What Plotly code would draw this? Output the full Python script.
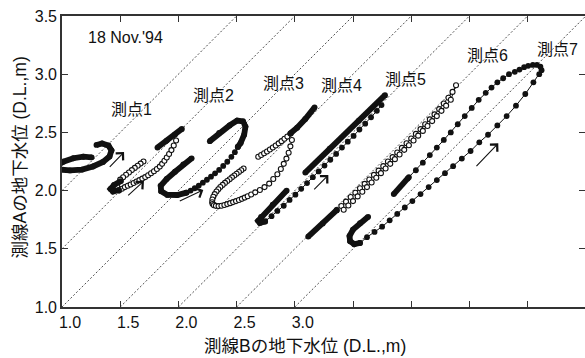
import plotly.graph_objects as go

FONT = "Liberation Sans, Arial, Noto Sans CJK JP, sans-serif"
INK = "#111111"

# ---- axes -------------------------------------------------------------
x_range = [1.0, 5.493]
y_range = [1.0, 3.5]
x_tick_vals = [1.0, 1.5, 2.0, 2.5, 3.0, 3.5, 4.0, 4.5, 5.0]
x_tick_text = ["1.0", "1.5", "2.0", "2.5", "3.0", "", "", "", ""]
y_tick_vals = [1.0, 1.5, 2.0, 2.5, 3.0, 3.5]
y_tick_text = ["1.0", "1.5", "2.0", "2.5", "3.0", "3.5"]

# 1:1 reference lines  y = x + c
guide_offsets = [1.0, 0.5, 0.0, -0.5, -1.0, -1.5, -2.0]

# ---- station labels -----------------------------------------------------
station_names = ["測点1", "測点2", "測点3", "測点4", "測点5", "測点6", "測点7"]
station_label_x = [1.593, 2.302, 2.899, 3.403, 3.951, 4.655, 5.257]
station_label_y = [2.701, 2.813, 2.916, 2.907, 2.954, 3.161, 3.208]

# ---- direction arrows (tail -> head) ----------------------------------
arrow_tail_x = [1.398, 1.556, 1.999, 3.154, 4.548]
arrow_tail_y = [2.190, 1.948, 1.905, 1.997, 2.197]
arrow_head_x = [1.533, 1.704, 2.214, 3.288, 4.748]
arrow_head_y = [2.332, 2.082, 2.005, 2.134, 2.406]

# ---- observations: B-line level (x) vs A-line level (y) ----------------
# "band" = stretches where consecutive readings pile up into a solid stroke
# "pts"  = readings far enough apart to show as separate markers

# 測点1 (filled)
st1_band_x = [1.255, 1.183, 1.097, 1.011, 0.957, 0.983, 1.069, 1.172, 1.266,
              1.352, 1.408, 1.425, 1.399, 1.344, 1.296]
st1_band_y = [2.286, 2.291, 2.278, 2.248, 2.211, 2.181, 2.173, 2.181, 2.207,
              2.246, 2.293, 2.345, 2.387, 2.405, 2.392]

# 測点2 (open)
st2_band_x = [1.507, 1.447, 1.417, 1.438, 1.490, None, 1.82, 1.90, 1.97, 2.03]
st2_band_y = [2.082, 2.048, 2.014, 1.992, 2.005, None, 2.37, 2.43, 2.48, 2.53]
st2_pts_x = [1.70, 1.675, 1.65, 1.625, 1.60, 1.575, 1.55, 1.525, 1.50,
             1.49, 1.515, 1.54, 1.565, 1.59, 1.615, 1.64, 1.665, 1.69, 1.715,
             1.74, 1.765, 1.79, 1.815, 1.84, 1.86, 1.88, 1.90, 1.92, 1.94,
             1.96, 1.98]
st2_pts_y = [2.250, 2.232, 2.213, 2.195, 2.176, 2.156, 2.136, 2.115, 2.094,
             2.000, 2.016, 2.030, 2.042, 2.053, 2.065, 2.078, 2.090, 2.103,
             2.116, 2.132, 2.149, 2.166, 2.185, 2.206, 2.230, 2.256, 2.285,
             2.315, 2.348, 2.388, 2.430]

# 測点3 (filled)
st3_band_x = [2.114, 2.042, 1.971, 1.899, 1.848, 1.852, 1.905, 1.990, 2.070,
              None, 2.510, 2.535, 2.565, 2.576, 2.555, 2.505, 2.440, 2.350, 2.270]
st3_band_y = [2.277, 2.226, 2.162, 2.100, 2.042, 1.995, 1.963, 1.962, 1.983,
              None, 2.375, 2.410, 2.480, 2.550, 2.595, 2.602, 2.560, 2.495, 2.425]
st3_pts_x = [2.070, 2.105, 2.140, 2.175, 2.210, 2.245, 2.280, 2.315, 2.350,
             2.385, 2.420, 2.455, 2.485, 2.510]
st3_pts_y = [1.983, 2.000, 2.020, 2.043, 2.068, 2.093, 2.120, 2.148, 2.178,
             2.212, 2.248, 2.290, 2.330, 2.375]

# 測点4 (open)
st4_band_x = [2.960, 3.020, 3.090, 3.170]
st4_band_y = [2.490, 2.540, 2.615, 2.715]
st4_pts_x = [2.560, 2.540, 2.520, 2.500, 2.480, 2.460, 2.440, 2.420, 2.400,
             2.380, 2.360, 2.343, 2.327, 2.312, 2.300, 2.292, 2.290, 2.294,
             2.305, 2.322, 2.345, 2.370, 2.395, 2.420, 2.445, 2.470, 2.495,
             2.520, 2.545, 2.570, 2.595, 2.625, 2.660, 2.700, 2.740, 2.780,
             2.815, 2.850, 2.880, 2.905, 2.928, 2.947, 2.962, 2.975, None,
             2.686, 2.711, 2.736, 2.761, 2.786, 2.811, 2.836, 2.861, 2.886,
             2.911, 2.936, 2.965]
st4_pts_y = [2.190, 2.175, 2.160, 2.145, 2.130, 2.114, 2.098, 2.082, 2.066,
             2.049, 2.031, 2.012, 1.992, 1.970, 1.947, 1.923, 1.900, 1.885,
             1.875, 1.869, 1.867, 1.870, 1.876, 1.884, 1.892, 1.901, 1.910,
             1.919, 1.929, 1.940, 1.952, 1.967, 1.985, 2.005, 2.030, 2.060,
             2.100, 2.140, 2.185, 2.230, 2.275, 2.325, 2.380, 2.435, None,
             2.291, 2.306, 2.321, 2.336, 2.353, 2.370, 2.388, 2.406, 2.425,
             2.445, 2.465, 2.490]

# 測点5 (filled)
st5_band_x = [3.090, 3.300, 3.550, 3.775, None, 2.930, 2.810, 2.710, 2.685,
              2.700, 2.745]
st5_band_y = [2.155, 2.360, 2.600, 2.820, None, 2.000, 1.880, 1.775, 1.740,
              1.722, 1.735]
st5_pts_x = [2.745, 2.800, 2.850, 2.905, 2.955, 3.005, 3.055, 3.105, 3.155,
             3.205, 3.255, 3.305, 3.355, 3.405, 3.455, 3.505, 3.555, 3.605,
             3.655, 3.705, 3.745]
st5_pts_y = [1.735, 1.780, 1.825, 1.870, 1.920, 1.965, 2.015, 2.065, 2.115,
             2.165, 2.215, 2.265, 2.315, 2.370, 2.420, 2.470, 2.525, 2.575,
             2.630, 2.685, 2.735]

# 測点6 (open)
st6_band_x = [3.115, 3.240, 3.360]
st6_band_y = [1.605, 1.718, 1.832]
st6_pts_x = [3.360, 3.400, 3.440, 3.480, 3.520, 3.560, 3.600, 3.640, 3.680,
             3.720, 3.760, 3.800, 3.840, 3.880, 3.920, 3.960, 4.000, 4.040,
             4.080, 4.120, 4.160, 4.200, 4.240, 4.280, 4.320, 4.355, 4.385,
             4.340, 4.300, 4.260, 4.220, 4.180, 4.140, 4.100, 4.060, 4.020,
             3.980, 3.940, 3.900, 3.860, 3.820, 3.780, 3.740, 3.700, 3.660,
             3.620, 3.580, 3.540, 3.500, 3.460, 3.420]
st6_pts_y = [1.832, 1.868, 1.905, 1.945, 1.982, 2.020, 2.058, 2.095, 2.135,
             2.172, 2.210, 2.250, 2.288, 2.327, 2.367, 2.407, 2.447, 2.487,
             2.528, 2.570, 2.612, 2.655, 2.700, 2.748, 2.798, 2.848, 2.905,
             2.780, 2.730, 2.685, 2.640, 2.597, 2.555, 2.513, 2.472, 2.430,
             2.390, 2.350, 2.310, 2.270, 2.230, 2.190, 2.150, 2.110, 2.070,
             2.030, 1.990, 1.950, 1.910, 1.872, 1.835]

# 測点7 (filled)
st7_band_x = [3.630, 3.560, 3.500, 3.470, 3.475, 3.510, 3.560, None, 3.850, 3.970]
st7_band_y = [1.775, 1.720, 1.665, 1.610, 1.565, 1.540, 1.550, None, 1.970, 2.105]
st7_pts_x = [3.560, 3.620, 3.685, 3.750, 3.815, 3.880, 3.945, 4.010, 4.080,
             4.150, 4.220, 4.290, 4.360, 4.435, 4.510, 4.585, 4.660, 4.740,
             4.820, 4.900, 4.980, 5.050, 5.100, 5.120, 5.110, 5.080, 5.045,
             5.005, 4.970, 4.930, 4.890, 4.840, 4.790, 4.740, 4.690, 4.640,
             4.580, 4.520, 4.460, 4.400, 4.340, 4.280, 4.220, 4.160, 4.100,
             4.040, 3.980]
st7_pts_y = [1.550, 1.600, 1.645, 1.690, 1.745, 1.800, 1.855, 1.910, 1.970,
             2.030, 2.090, 2.150, 2.210, 2.275, 2.340, 2.415, 2.480, 2.560,
             2.640, 2.730, 2.830, 2.930, 3.000, 3.035, 3.065, 3.080, 3.080,
             3.072, 3.060, 3.040, 3.020, 3.000, 2.965, 2.930, 2.885, 2.840,
             2.780, 2.710, 2.640, 2.570, 2.500, 2.435, 2.370, 2.305, 2.240,
             2.175, 2.115]

stations = [
    (st1_band_x, st1_band_y, [], [], True),
    (st2_band_x, st2_band_y, st2_pts_x, st2_pts_y, False),
    (st3_band_x, st3_band_y, st3_pts_x, st3_pts_y, True),
    (st4_band_x, st4_band_y, st4_pts_x, st4_pts_y, False),
    (st5_band_x, st5_band_y, st5_pts_x, st5_pts_y, True),
    (st6_band_x, st6_band_y, st6_pts_x, st6_pts_y, False),
    (st7_band_x, st7_band_y, st7_pts_x, st7_pts_y, True),
]

fig = go.Figure()

# dotted 1:1 guides, clipped to the frame
for c in guide_offsets:
    x0 = max(x_range[0], y_range[0] - c)
    x1 = min(x_range[1], y_range[1] - c)
    fig.add_trace(go.Scatter(
        x=[x0, x1], y=[x0 + c, x1 + c], mode="lines",
        line=dict(color="#222222", width=0.8, dash="2px,2px"),
        hoverinfo="skip"))

for band_x, band_y, pts_x, pts_y, filled in stations:
    if pts_x:
        fig.add_trace(go.Scatter(
            x=pts_x, y=pts_y, mode="lines+markers",
            line=dict(color=INK, width=1),
            marker=dict(symbol="circle",
                        size=5.8 if filled else 5.0,
                        color=INK if filled else "white",
                        line=dict(color=INK, width=0 if filled else 1.1)),
            hoverinfo="skip"))
    fig.add_trace(go.Scatter(
        x=band_x, y=band_y, mode="lines+markers",
        line=dict(color=INK, width=5.8),
        marker=dict(symbol="circle", size=5.8, color=INK),
        cliponaxis=False, hoverinfo="skip"))

# keeps the right-hand tick axis alive
fig.add_trace(go.Scatter(x=[None], y=[None], yaxis="y2", hoverinfo="skip"))

annotations = []
for name, lx, ly in zip(station_names, station_label_x, station_label_y):
    annotations.append(dict(x=lx, y=ly, xref="x", yref="y", text=name,
                            xanchor="center", yanchor="middle",
                            showarrow=False, font=dict(size=16, color=INK)))
for tx, ty, hx, hy in zip(arrow_tail_x, arrow_tail_y, arrow_head_x, arrow_head_y):
    annotations.append(dict(x=hx, y=hy, ax=tx, ay=ty, xref="x", yref="y",
                            axref="x", ayref="y", text="", showarrow=True,
                            arrowhead=4, arrowsize=1.8, arrowwidth=1.1,
                            arrowcolor=INK))
annotations.append(dict(x=1.206, y=3.315, xref="x", yref="y",
                        xanchor="left", yanchor="middle",
                        text="18 Nov.'94", showarrow=False,
                        font=dict(size=16, color=INK)))
annotations.append(dict(x=0.4646, y=-0.1357, xref="paper", yref="paper",
                        xanchor="center", yanchor="middle",
                        text="測線Bの地下水位 (D.L.,m)", showarrow=False,
                        font=dict(size=17.5, color=INK)))
annotations.append(dict(x=-0.0803, y=0.5137, xref="paper", yref="paper",
                        xanchor="center", yanchor="middle",
                        text="測線Aの地下水位 (D.L.,m)", showarrow=False,
                        textangle=-90, font=dict(size=17.5, color=INK)))

axis_common = dict(ticks="inside", ticklen=6, tickwidth=1.3, tickcolor="#333333",
                   showgrid=False, zeroline=False,
                   tickfont=dict(size=16, color=INK, family=FONT))

fig.update_layout(
    width=585, height=358,
    margin=dict(l=62, r=0, t=16, b=51),
    paper_bgcolor="white", plot_bgcolor="white",
    showlegend=False,
    font=dict(family=FONT, color=INK),
    xaxis=dict(range=x_range, tickvals=x_tick_vals, ticktext=x_tick_text,
               showline=True, linecolor="#333333", linewidth=1.6, mirror="ticks",
               ticklabelshift=8, **axis_common),
    yaxis=dict(range=y_range, tickvals=y_tick_vals, ticktext=y_tick_text,
               showline=True, linecolor="#333333", linewidth=1.6, **axis_common),
    yaxis2=dict(range=y_range, tickvals=y_tick_vals, overlaying="y", side="right",
                showticklabels=False, showline=False, **axis_common),
    annotations=annotations,
)

fig.write_html("out.html")
